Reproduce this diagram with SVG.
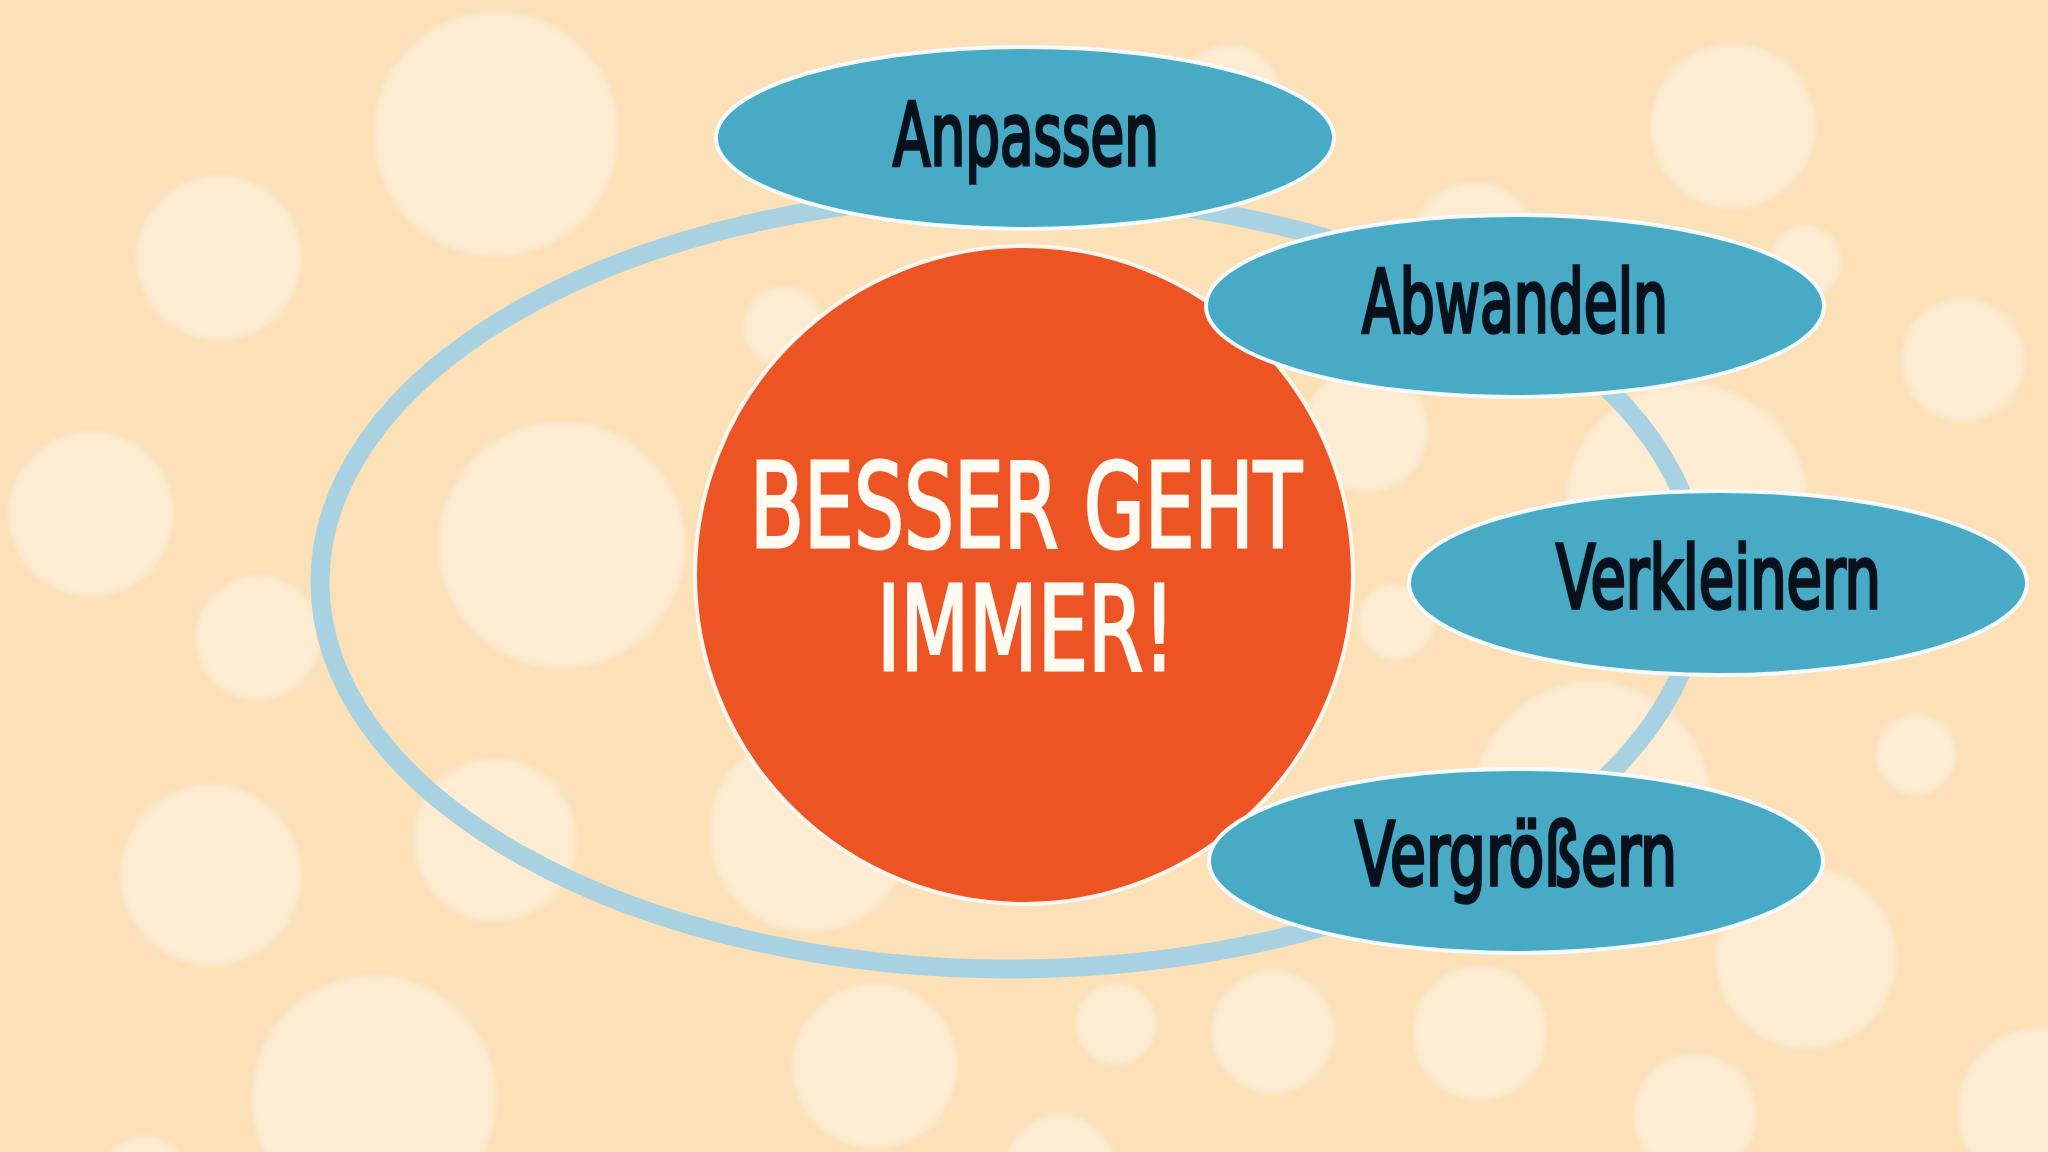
<svg xmlns="http://www.w3.org/2000/svg" width="2048" height="1152" viewBox="0 0 2048 1152">
  <defs>
    <filter id="soft" x="-10%" y="-10%" width="120%" height="120%">
      <feGaussianBlur stdDeviation="2.5"/>
    </filter>
  </defs>
  <style>
    .bokeh { fill: #fdebd2; }
    .node { fill: #49aac6; stroke: #f4fbfd; stroke-width: 4; }
    .nodetext { font-family: 'DejaVu Sans Condensed', 'DejaVu Sans', sans-serif; font-stretch: condensed; font-size: 88px; fill: #07121c; stroke: #07121c; stroke-width: 3.5; font-weight: normal; }
    .maintext { font-family: 'DejaVu Sans Condensed', 'DejaVu Sans', sans-serif; font-stretch: condensed; font-size: 118px; fill: #fffaf2; stroke: #fffaf2; stroke-width: 3; font-weight: normal; }
  </style>
  <rect x="0" y="0" width="2048" height="1152" fill="#fbe0b8"/>
  <g id="background-bokeh" filter="url(#soft)">
    <circle class="bokeh" cx="496" cy="134" r="122"/>
    <circle class="bokeh" cx="219" cy="258" r="82"/>
    <circle class="bokeh" cx="784" cy="327" r="40"/>
    <circle class="bokeh" cx="91" cy="514" r="82"/>
    <circle class="bokeh" cx="562" cy="545" r="123"/>
    <circle class="bokeh" cx="258" cy="638" r="62"/>
    <circle class="bokeh" cx="211" cy="875" r="90"/>
    <circle class="bokeh" cx="495" cy="840" r="81"/>
    <circle class="bokeh" cx="810" cy="832" r="100"/>
    <circle class="bokeh" cx="374" cy="1098" r="122"/>
    <circle class="bokeh" cx="875" cy="1066" r="82"/>
    <circle class="bokeh" cx="145" cy="1182" r="45"/>
    <circle class="bokeh" cx="1230" cy="95" r="50"/>
    <circle class="bokeh" cx="1733" cy="126" r="82"/>
    <circle class="bokeh" cx="1475" cy="248" r="65"/>
    <circle class="bokeh" cx="1805" cy="262" r="36"/>
    <circle class="bokeh" cx="1963" cy="360" r="61"/>
    <circle class="bokeh" cx="1366" cy="430" r="62"/>
    <circle class="bokeh" cx="1687" cy="505" r="121"/>
    <circle class="bokeh" cx="1396" cy="622" r="38"/>
    <circle class="bokeh" cx="1592" cy="800" r="118"/>
    <circle class="bokeh" cx="1916" cy="755" r="40"/>
    <circle class="bokeh" cx="1806" cy="958" r="90"/>
    <circle class="bokeh" cx="1116" cy="1024" r="40"/>
    <circle class="bokeh" cx="1273" cy="1032" r="61"/>
    <circle class="bokeh" cx="1480" cy="1033" r="67"/>
    <circle class="bokeh" cx="1695" cy="1115" r="61"/>
    <circle class="bokeh" cx="2040" cy="1110" r="82"/>
    <circle class="bokeh" cx="1060" cy="1170" r="55"/>
  </g>
  <g id="connectors">
    <ellipse cx="1010" cy="582" rx="690" ry="387" fill="none" stroke="#a8d2e1" stroke-width="19"/>
  </g>
  <g id="center">
    <circle cx="1024" cy="575" r="329" fill="#ec5424" stroke="#fff6ee" stroke-width="4"/>
    <text class="maintext"><tspan x="750" y="547" textLength="552" lengthAdjust="spacingAndGlyphs">BESSER GEHT</tspan><tspan x="877" y="670" textLength="298" lengthAdjust="spacingAndGlyphs">IMMER!</tspan></text>
  </g>
  <g id="node-anpassen">
    <ellipse class="node" cx="1025" cy="138" rx="309" ry="91"/>
    <text class="nodetext" x="893" y="165" textLength="266" lengthAdjust="spacingAndGlyphs">Anpassen</text>
  </g>
  <g id="node-abwandeln">
    <ellipse class="node" cx="1515" cy="306" rx="309" ry="91"/>
    <text class="nodetext" x="1362" y="332" textLength="306" lengthAdjust="spacingAndGlyphs">Abwandeln</text>
  </g>
  <g id="node-verkleinern">
    <ellipse class="node" cx="1718" cy="583" rx="309" ry="92"/>
    <text class="nodetext" x="1556" y="608" textLength="325" lengthAdjust="spacingAndGlyphs">Verkleinern</text>
  </g>
  <g id="node-vergroessern">
    <ellipse class="node" cx="1516" cy="861" rx="307" ry="92"/>
    <text class="nodetext" x="1355" y="885" textLength="322" lengthAdjust="spacingAndGlyphs">Vergrößern</text>
  </g>
</svg>
